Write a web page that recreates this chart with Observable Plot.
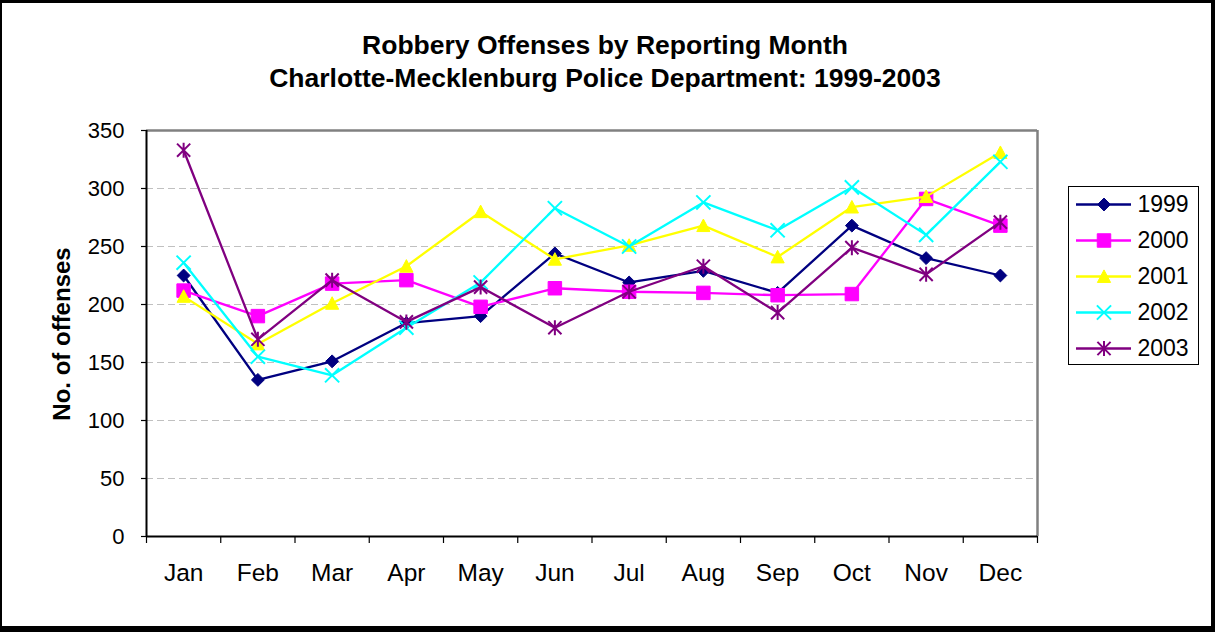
<!DOCTYPE html>
<html>
<head>
<meta charset="utf-8">
<script src="https://cdn.jsdelivr.net/npm/d3@7"></script>
<script src="https://cdn.jsdelivr.net/npm/@observablehq/plot@0.6"></script>
<style>
  html, body { margin: 0; padding: 0; background: #fff; }
  #wrap { position: relative; width: 1215px; height: 632px; overflow: hidden; font-family: "Liberation Sans", Arial, sans-serif; }
  #frame { position: absolute; left: 0; top: 0; width: 1215px; height: 632px; box-sizing: border-box;
    border-top: 3px solid #000; border-left: 2px solid #000; border-right: 4px solid #000; border-bottom: 6px solid #000;
    pointer-events: none; }
  #title { position: absolute; left: 0; top: 29px; width: 1210px; text-align: center; font-weight: bold; font-size: 26.5px; line-height: 33px; color: #000; }
  #ylabel { position: absolute; left: 62px; top: 334px; transform: translate(-50%, -50%) rotate(-90deg); font-weight: bold; font-size: 24px; white-space: nowrap; color: #000; }
  #legend { position: absolute; left: 1068px; top: 186px; width: 131px; height: 179px; box-sizing: border-box; border: 1px solid #000; background: #fff; }
  #legend svg, #chart svg { display: block; }
  #chart { position: absolute; left: 0; top: 0; }
</style>
</head>
<body>
<div id="wrap">
  <div id="chart"></div>
  <div id="title">Robbery Offenses by Reporting Month<br>Charlotte-Mecklenburg Police Department: 1999-2003</div>
  <div id="ylabel">No. of offenses</div>
  <div id="legend"></div>
  <div id="frame"></div>
</div>
<script>
const months = ["Jan","Feb","Mar","Apr","May","Jun","Jul","Aug","Sep","Oct","Nov","Dec"];
const years = ["1999","2000","2001","2002","2003"];
const v1999 = [225, 135, 151, 184, 190, 244, 219, 229, 210, 268, 240, 225];
const v2000 = [212, 190, 218, 221, 198, 214, 211, 210, 208, 209, 291, 268];
const v2001 = [207, 166, 201, 233, 280, 239, 251, 268, 241, 284, 293, 331];
const v2002 = [236, 155, 139, 180, 219, 283, 250, 288, 264, 301, 260, 323];
const v2003 = [333, 170, 221, 185, 215, 180, 211, 233, 193, 249, 226, 271];
const yTicks = [0, 50, 100, 150, 200, 250, 300, 350];
const colors = ["#000080", "#FF00FF", "#FFFF00", "#00FFFF", "#800080"];

const seriesValues = [v1999, v2000, v2001, v2002, v2003];

// custom symbols
const excelTriangle = { draw(ctx, size) { const r = Math.sqrt(size / Math.PI); ctx.moveTo(0, -r); ctx.lineTo(r, r * 0.9); ctx.lineTo(-r, r * 0.9); ctx.closePath(); } };
const excelStar = { draw(ctx, size) { const r = Math.sqrt(size / Math.PI); const d = r * 0.88; ctx.moveTo(0, -r); ctx.lineTo(0, r); ctx.moveTo(-d, -d); ctx.lineTo(d, d); ctx.moveTo(-d, d); ctx.lineTo(d, -d); } };

const markerSpec = [
  { symbol: "diamond2", r: 5.8, filled: true, sw: 1 },
  { symbol: "square", r: 7.6, filled: true, sw: 1 },
  { symbol: excelTriangle, r: 6.6, filled: true, sw: 1 },
  { symbol: "times", r: 6.5, filled: false, sw: 2 },
  { symbol: excelStar, r: 7.5, filled: false, sw: 2 }
];

const rows = [];
years.forEach((yr, s) => seriesValues[s].forEach((v, i) => rows.push({ year: yr, s, month: months[i], xi: i + 0.5, value: v })));

function dotOpts(s, extra) {
  const m = markerSpec[s];
  return Object.assign({
    symbol: m.symbol, r: m.r,
    fill: m.filled ? colors[s] : "none",
    stroke: colors[s], strokeWidth: m.sw
  }, extra);
}

const seriesMarks = [];
years.forEach((yr, s) => {
  const d = rows.filter(r => r.s === s);
  seriesMarks.push(Plot.line(d, { x: "xi", y: "value", stroke: colors[s], strokeWidth: 2.3 }));
  seriesMarks.push(Plot.dot(d, dotOpts(s, { x: "xi", y: "value" })));
});

const chart = Plot.plot({
  width: 1215, height: 632,
  marginLeft: 146, marginRight: 178, marginTop: 130, marginBottom: 96,
  style: { fontFamily: "'Liberation Sans', Arial, sans-serif", color: "#000", background: "transparent" },
  x: { domain: [0, 12], axis: null },
  y: { domain: [0, 350], axis: null },
  marks: [
    Plot.gridY(yTicks.filter(t => t > 0 && t < 350), { stroke: "#c0c0c0", strokeOpacity: 1, strokeWidth: 1.2, strokeDasharray: "7,4" }),
    Plot.ruleY([350], { stroke: "#808080", strokeWidth: 2.5 }),
    Plot.ruleX([12], { stroke: "#808080", strokeWidth: 2.5 }),
    Plot.axisY({ ticks: yTicks, tickSize: 5, tickPadding: 17, fontSize: 22, tickFormat: d => String(d), label: null, strokeWidth: 1.2 }),
    Plot.axisX({ ticks: d3.range(0, 13), tickSize: 7, tickFormat: () => "", label: null, strokeWidth: 1.2 }),
    Plot.text(months.map((m, i) => ({ m, xi: i + 0.5 })), { x: "xi", text: "m", frameAnchor: "bottom", dy: 37, fontSize: 24.5, lineAnchor: "middle", fill: "#000" }),
    Plot.ruleX([0], { stroke: "#000", strokeWidth: 2 }),
    Plot.ruleY([0], { stroke: "#000", strokeWidth: 2 }),
    ...seriesMarks
  ]
});
document.getElementById("chart").appendChild(chart);

// legend
const legendRows = years.map((yr, s) => ({ year: yr, s }));
const legendMarks = [];
legendRows.forEach((row) => {
  legendMarks.push(Plot.ruleY([row], { y: "year", x1: 7, x2: 62, stroke: colors[row.s], strokeWidth: 2.3 }));
  legendMarks.push(Plot.dot([row], dotOpts(row.s, { x: () => 34.5, y: "year" })));
});
legendMarks.push(Plot.text(legendRows, { x: () => 68, y: "year", text: "year", textAnchor: "start", fontSize: 23, fill: "#000" }));
const legend = Plot.plot({
  width: 129, height: 177,
  margin: 0,
  style: { fontFamily: "'Liberation Sans', Arial, sans-serif", color: "#000", background: "transparent", overflow: "visible" },
  x: { type: "linear", domain: [0, 129], range: [0, 129], axis: null },
  y: { type: "point", domain: years, range: [17, 161], padding: 0, axis: null },
  marks: legendMarks
});
document.getElementById("legend").appendChild(legend);
</script>
</body>
</html>
